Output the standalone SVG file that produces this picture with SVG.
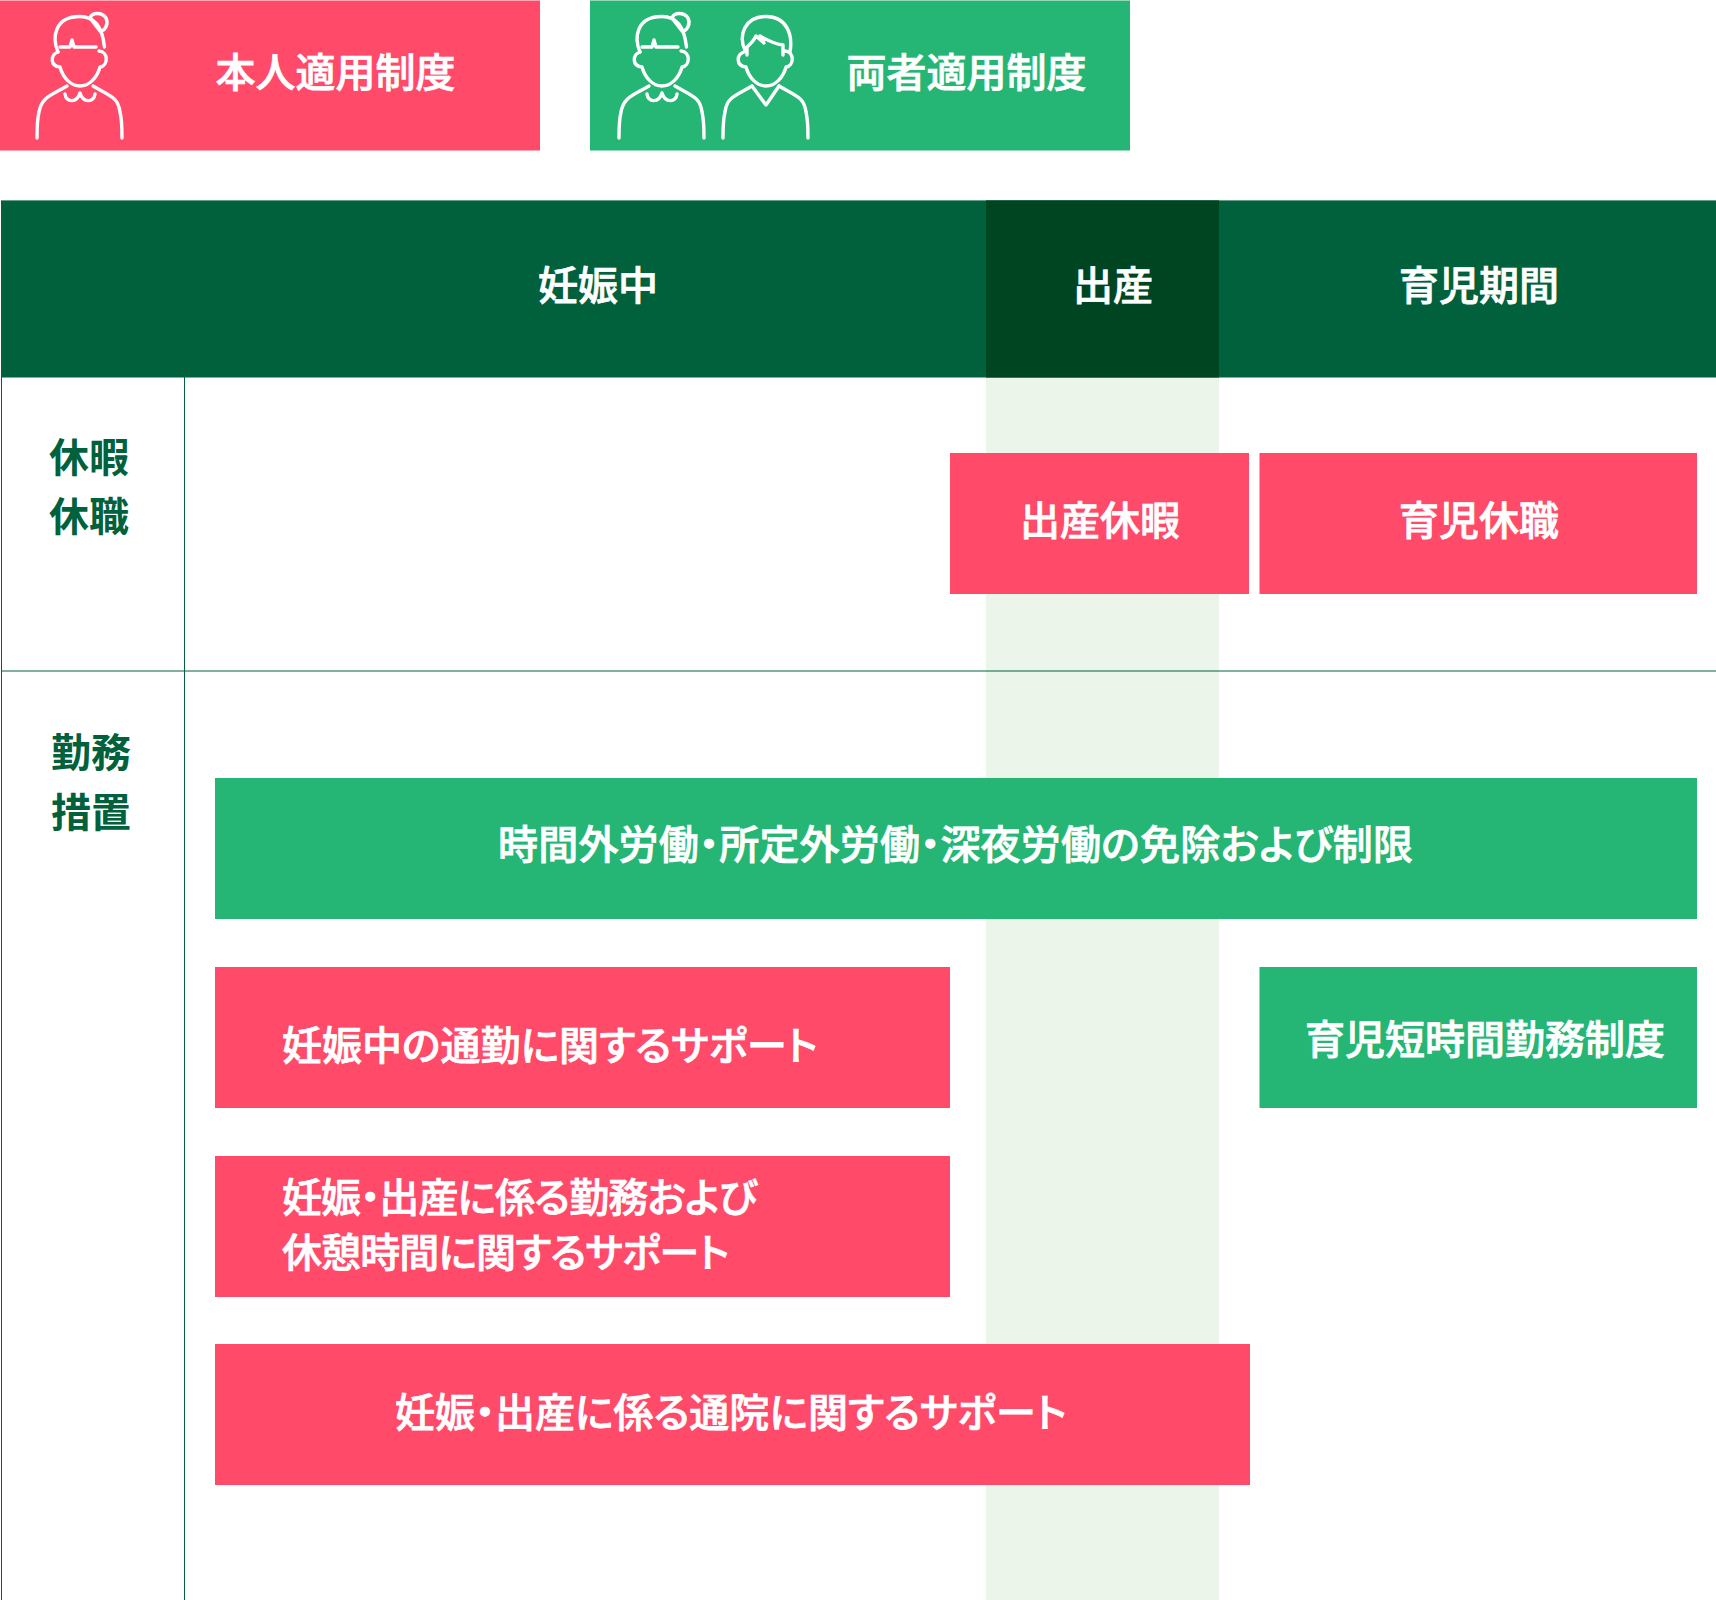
<svg xmlns="http://www.w3.org/2000/svg" width="1716" height="1600" viewBox="0 0 1716 1600">
<style>
text{font-family:"Noto Sans CJK JP","Noto Sans",sans-serif;font-size:40px;font-weight:500;fill:#fff;stroke:#fff;stroke-width:.75px;font-feature-settings:"palt"}
.g{fill:#01613d;stroke:none;font-weight:700}
.red{fill:#ff4a69}.grn{fill:#25b675}
.ic{fill:none;stroke:#fff;stroke-width:3.4;stroke-linecap:round;stroke-linejoin:round}
.ln{stroke:#01613d;stroke-width:1;fill:none}
</style>
<defs>
<g id="woman" class="ic">
<path d="M58,52C52,38 54,16.500 80,16.500C98,16.500 103,33 104.500,47"/>
<path d="M60,47H70L72,40L74,47H96"/>
<path d="M58,52C50,55 50,66 60,67C63,78 71,86 80,86C89,86 97,78 100,67C108,66 109,52 99,51"/>
<path d="M67,86C50,96 42,97 39,112C37,120 37,130 37,138"/>
<path d="M93,86C110,96 118,97 120,112C122,120 122,130 122,138"/>
<path d="M65,94C66,103 77,103 80,93C83,103 94,103 95,94"/>
<path d="M90,18C92,12 102,12 106,18C109,24 105,31 100,31L90,18"/>
</g>
</defs>
<rect id="bg" width="1716" height="1600" fill="#fff"/>
<rect x="986" y="377" width="233" height="1223" fill="#ebf5ea"/>
<g id="grid">
<path class="ln" d="M1.500,377V1600M184.500,377V1600M1,671H1716"/>
</g>
<g id="legend-self"><rect class="red" x="0" y="0.500" width="540" height="150"/><use href="#woman"/><text x="215.500" y="87">本人適用制度</text></g>
<g id="legend-both"><rect class="grn" x="590" y="0.500" width="540" height="150"/><use href="#woman" x="582"/>
<g class="ic">
<path d="M745,50C738,35 745,16.500 766,16.500C787,16.500 793,35 790,52"/>
<path d="M747,55V47C754,41 755,38 756,36L764,43L760,36C770,42 775,44 783,45V55"/>
<path d="M744,52C736,55 736,66 746,67C749,78 757,86 766,86C775,86 783,78 786,67C794,66 795,52 785,51"/>
<path d="M752,86C735,96 727,97 725,112C723,120 723,130 723,138"/>
<path d="M779,86C796,96 804,97 806,112C808,120 808,130 808,138"/>
<path d="M752,86L766,105L779,86"/>
</g>
<text x="846.500" y="87">両者適用制度</text></g>
<g id="header">
<rect x="1" y="200.400" width="1715" height="177.100" fill="#01613d"/>
<rect x="986" y="200.400" width="233" height="177.100" fill="#004522"/>
<text x="538" y="300">妊娠中</text><text x="1073" y="300">出産</text><text x="1399" y="300">育児期間</text>
</g>
<g id="label-leave"><text class="g" x="49" y="472">休暇</text><text class="g" x="49" y="531">休職</text></g>
<g id="label-work"><text class="g" x="51" y="767">勤務</text><text class="g" x="51" y="827">措置</text></g>
<g id="n1"><rect class="red" x="950" y="453" width="299" height="141"/><text x="1020" y="535">出産休暇</text></g>
<g id="n2"><rect class="red" x="1259.500" y="453" width="437.500" height="141"/><text x="1399" y="535">育児休職</text></g>
<g id="n3"><rect class="grn" x="215" y="778" width="1482" height="141"/><text x="498" y="859" letter-spacing=".2">時間外労働・所定外労働・深夜労働の免除および制限</text></g>
<g id="n4"><rect class="red" x="215" y="967" width="735" height="141"/><text x="282" y="1060">妊娠中の通勤に関するサポート</text></g>
<g id="n5"><rect class="grn" x="1259.500" y="967" width="437.500" height="141"/><text x="1305" y="1054">育児短時間勤務制度</text></g>
<g id="n6"><rect class="red" x="215" y="1156" width="735" height="141"/><text x="282" y="1212" letter-spacing="-.9">妊娠・出産に係る勤務および</text><text x="282" y="1267" letter-spacing="-.9">休憩時間に関するサポート</text></g>
<g id="n7"><rect class="red" x="215" y="1344" width="1035" height="141"/><text x="395" y="1427">妊娠・出産に係る通院に関するサポート</text></g>
</svg>
